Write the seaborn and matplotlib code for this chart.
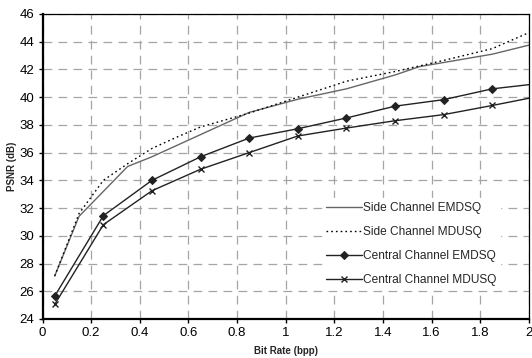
import matplotlib
matplotlib.use("Agg")
import matplotlib.pyplot as plt
import seaborn as sns
import numpy as np
import pandas as pd

# data
side_x = [0.05, 0.15, 0.35, 0.45, 0.65, 0.85, 1.05, 1.25, 1.45, 1.55, 1.65, 1.85, 2.0]
side_emdsq = [27.1, 31.4, 35.0, 35.7, 37.3, 38.9, 39.85, 40.6, 41.6, 42.2, 42.5, 43.1, 43.75]

side_mdusq_x = [0.05, 0.15, 0.25, 0.35, 0.45, 0.55, 0.65, 0.85, 1.05, 1.25, 1.45, 1.55, 1.65, 1.85, 2.0]
side_mdusq = [27.1, 31.6, 34.0, 35.2, 36.3, 37.1, 37.85, 38.85, 40.0, 41.15, 41.85, 42.25, 42.65, 43.5, 44.65]

central_x = [0.05, 0.25, 0.45, 0.65, 0.85, 1.05, 1.25, 1.45, 1.65, 1.85, 2.0]
central_emdsq = [25.65, 31.45, 34.0, 35.7, 37.05, 37.72, 38.5, 39.35, 39.82, 40.6, 40.9]
central_mdusq = [25.05, 30.8, 33.25, 34.8, 36.0, 37.2, 37.77, 38.3, 38.74, 39.4, 39.92]

x_ticks = [0, 0.2, 0.4, 0.6, 0.8, 1, 1.2, 1.4, 1.6, 1.8, 2]
x_tick_labels = ["0", "0.2", "0.4", "0.6", "0.8", "1", "1.2", "1.4", "1.6", "1.8", "2"]
y_ticks = list(range(24, 47, 2))

sns.set_style("white")
plt.rcParams['font.family'] = ['Liberation Sans', 'DejaVu Sans']

fig = plt.figure(figsize=(5.32, 3.58), dpi=100)
ax = fig.add_axes([0.080, 0.109, 0.914, 0.852])

sns.lineplot(x=side_x, y=side_emdsq, ax=ax, color="#666666", lw=1.0,
             label="Side Channel EMDSQ")
sns.lineplot(x=side_mdusq_x, y=side_mdusq, ax=ax, color="black", lw=1.0,
             linestyle=(0, (1.2, 2.2)), label="Side Channel MDUSQ")
sns.lineplot(x=central_x[:-1], y=central_emdsq[:-1], ax=ax, color="#222222", lw=1.0,
             marker="D", markersize=4, markeredgecolor="#222222",
             label="Central Channel EMDSQ")
sns.lineplot(x=central_x[:-1], y=central_mdusq[:-1], ax=ax, color="#222222", lw=1.0,
             marker="x", markersize=5, markeredgewidth=1.0, markeredgecolor="#222222",
             label="Central Channel MDUSQ")
# line segments to the right edge (no marker at x=2)
ax.plot(central_x[-2:], central_emdsq[-2:], color="#222222", lw=1.0)
ax.plot(central_x[-2:], central_mdusq[-2:], color="#222222", lw=1.0)

ax.set_xlim(0, 2)
ax.set_ylim(24, 46)
ax.set_xticks(x_ticks)
ax.set_xticklabels(x_tick_labels)
ax.set_yticks(y_ticks)
ax.tick_params(axis="both", labelsize=9.5, direction="out", length=3, width=1,
               left=True, bottom=True, pad=3, colors="black")

ax.grid(True, color="#a5a5a5", linestyle=(0, (7, 5)), lw=0.9)
ax.set_axisbelow(True)

for side in ["left", "bottom"]:
    ax.spines[side].set_linewidth(1.6)
    ax.spines[side].set_color("black")
for side in ["top", "right"]:
    ax.spines[side].set_linewidth(0.9)
    ax.spines[side].set_color("black")

ax.set_xlabel("Bit Rate (bpp)", fontsize=7, fontweight="bold", labelpad=5)
ax.set_ylabel("PSNR (dB)", fontsize=7, fontweight="bold", labelpad=2)

leg = ax.legend(loc="center left", bbox_to_anchor=(0.564, 0.246), fontsize=8.6,
                frameon=True, framealpha=1, edgecolor="white", fancybox=False,
                handlelength=3.0, handletextpad=0.1, labelspacing=1.0,
                borderpad=0.3)

fig.savefig("out.png", dpi=100)
